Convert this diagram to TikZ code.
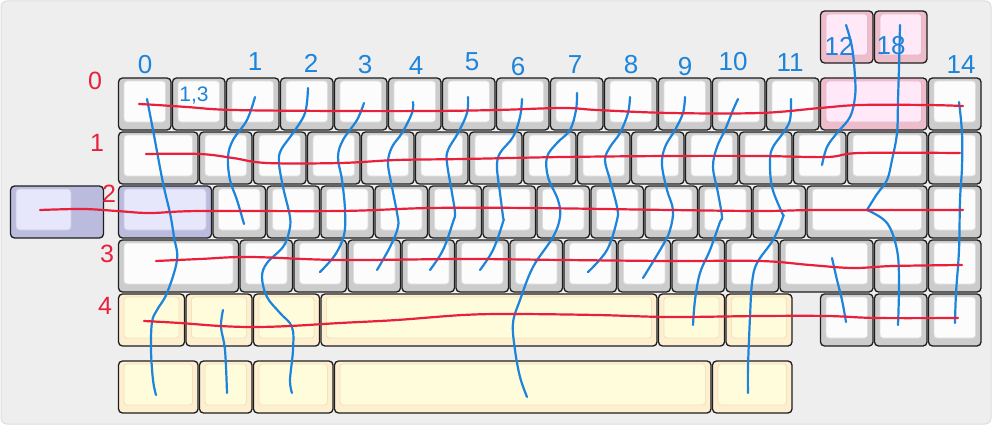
\documentclass[tikz,border=0pt]{standalone}
\usepackage{fontspec}
\setmainfont{Liberation Sans}
\definecolor{bgfill}{HTML}{EEEEEE}
\definecolor{bgline}{HTML}{DDDDDD}
\definecolor{keyline}{HTML}{1E1E1E}
\definecolor{gray-o}{HTML}{CCCCCC}
\definecolor{gray-i}{HTML}{FCFCFC}
\definecolor{gray-b}{HTML}{DDDDDD}
\definecolor{yel-o}{HTML}{FDEFCF}
\definecolor{yel-i}{HTML}{FFFCDC}
\definecolor{yel-b}{HTML}{F1E3C0}
\definecolor{pur-o}{HTML}{BBBBDD}
\definecolor{pur-i}{HTML}{E7E7FB}
\definecolor{pur-b}{HTML}{C8C8E4}
\definecolor{pnk-o}{HTML}{EEBDCA}
\definecolor{pnk-i}{HTML}{FFE8F8}
\definecolor{pnk-b}{HTML}{E8B8CC}
\definecolor{wireblue}{HTML}{1C84DA}
\definecolor{wirered}{HTML}{E8203C}
\tikzset{
  keyo/.style={draw=keyline, line width=1.3pt, rounded corners=4pt, inner sep=0pt, outer sep=0pt,
    minimum height=52pt, anchor=north west},
  face/.style={line width=0.9pt, rounded corners=3pt},
  bwire/.style={draw=wireblue, line width=2.2pt, line cap=round, line join=round},
  rwire/.style={draw=wirered, line width=2.2pt, line cap=round, line join=round},
  clab/.style={text=wireblue, font=\fontsize{26}{26}\selectfont, inner sep=0pt},
  rlab/.style={text=wirered, font=\fontsize{25}{25}\selectfont, inner sep=0pt},
}
\newcommand\kcap[5]{%
  \node[keyo, fill=#5-o, minimum width={#4*54pt-1.5pt}] (#1) at (#2,#3) {};
  \draw[face, fill=#5-i, draw=#5-b] ([xshift=5.5pt,yshift=-3pt]#1.north west) rectangle ([xshift=-5.5pt,yshift=8pt]#1.south east);
}
\begin{document}
\begin{tikzpicture}[x=1pt,y=-1pt]
\useasboundingbox (0,0) rectangle (992,425);
\draw[fill=bgfill, draw=bgline, line width=1pt, rounded corners=6pt] (1,1) rectangle (991,424);
% top pink keys
\kcap{t0}{820.5}{11}{1}{pnk}
\kcap{t1}{874.5}{11}{1}{pnk}
% row 0
\foreach \i in {0,...,12} {\kcap{a\i}{118.5+54*\i}{78}{1}{gray}}
\kcap{a13}{820.5}{78}{2}{pnk}
\kcap{a14}{928.5}{78}{1}{gray}
% row 1
\kcap{b0}{118.5}{132}{1.5}{gray}
\foreach \i in {1,...,12} {\kcap{b\i}{145.5+54*\i}{132}{1}{gray}}
\kcap{b13}{847.5}{132}{1.5}{gray}
\kcap{b14}{928.5}{132}{1}{gray}
% row 2
\kcap{c0}{118.5}{186}{1.75}{pur}
\foreach \i in {1,...,11} {\kcap{c\i}{159+54*\i}{186}{1}{gray}}
\kcap{c12}{807}{186}{2.25}{gray}
\kcap{c14}{928.5}{186}{1}{gray}
% stepped key at left
\node[keyo, fill=pur-o, minimum width={1.75*54pt-1.5pt}] (cx) at (10.5,186) {};
\draw[face, fill=pur-i, draw=pur-b] ([xshift=5.5pt,yshift=-3pt]cx.north west) rectangle ([xshift={1.25*54pt-7pt},yshift=8pt]cx.south west);
% row 3
\kcap{d0}{118.5}{240}{2.25}{gray}
\foreach \i in {1,...,10} {\kcap{d\i}{186+54*\i}{240}{1}{gray}}
\kcap{d11}{780}{240}{1.75}{gray}
\kcap{d13}{874.5}{240}{1}{gray}
\kcap{d14}{928.5}{240}{1}{gray}
% row 4
\kcap{e0}{118.5}{294}{1.25}{yel}
\kcap{e1}{186}{294}{1.25}{yel}
\kcap{e2}{253.5}{294}{1.25}{yel}
\kcap{e3}{321}{294}{6.25}{yel}
\kcap{e4}{658.5}{294}{1.25}{yel}
\kcap{e5}{726}{294}{1.25}{yel}
\kcap{e12}{820.5}{294}{1}{gray}
\kcap{e13}{874.5}{294}{1}{gray}
\kcap{e14}{928.5}{294}{1}{gray}
% row 5
\kcap{f0}{118.5}{361}{1.5}{yel}
\kcap{f1}{199.5}{361}{1}{yel}
\kcap{f2}{253.5}{361}{1.5}{yel}
\kcap{f3}{334.5}{361}{7}{yel}
\kcap{f4}{712.5}{361}{1.5}{yel}
% blue column wires
\draw[bwire] plot[smooth, tension=0.6] coordinates {(147,99) (153,130) (163,183) (170,213) (174,237) (177,260) (167,293) (157,310) (152,322) (151,350) (153,380) (156,395)};
\draw[bwire] plot[smooth, tension=0.6] coordinates {(255,97) (247,120) (233,140) (228,157) (230,180) (237,200) (244,224)};
\draw[bwire] plot[smooth, tension=0.6] coordinates {(223,310) (221,327) (225,350) (227,393)};
\draw[bwire] plot[smooth, tension=0.6] coordinates {(308,88) (305,113) (293,133) (281,150) (279,163) (283,187) (290,217) (289,232) (283,247) (267,263) (262,277) (267,297) (280,313) (292,327) (293,350) (290,380) (292,393)};
\draw[bwire] plot[smooth, tension=0.6] coordinates {(364,103) (357,120) (343,140) (338,157) (342,180) (345,210) (344,235) (335,255) (320,272)};
\draw[bwire] plot[smooth, tension=0.6] coordinates {(413,102) (412,113) (402,133) (392,147) (388,163) (392,187) (397,213) (398,227) (390,247) (377,270)};
\draw[bwire] plot[smooth, tension=0.6] coordinates {(468,97) (467,113) (458,133) (448,150) (447,163) (452,193) (455,213) (453,222) (443,250) (430,270)};
\draw[bwire] plot[smooth, tension=0.6] coordinates {(522,99) (520,117) (513,137) (500,153) (497,167) (500,193) (503,217) (503,222) (493,250) (480,270)};
\draw[bwire] plot[smooth, tension=0.6] coordinates {(577,93) (576,110) (570,130) (557,143) (547,157) (548,177) (558,200) (560,217) (553,237) (533,267) (520,300) (513,323) (515,350) (520,377) (527,397)};
\draw[bwire] plot[smooth, tension=0.6] coordinates {(630,97) (628,113) (620,133) (610,147) (605,160) (610,180) (617,207) (617,220) (607,250) (588,272)};
\draw[bwire] plot[smooth, tension=0.6] coordinates {(685,97) (683,113) (675,130) (665,147) (662,165) (667,190) (673,210) (670,230) (663,245) (643,278)};
\draw[bwire] plot[smooth, tension=0.6] coordinates {(738,99) (733,110) (725,130) (717,147) (713,167) (718,193) (722,217) (720,222) (710,250) (700,273) (695,300) (693,325)};
\draw[bwire] plot[smooth, tension=0.6] coordinates {(791,99) (790,120) (783,133) (773,147) (770,160) (772,187) (782,213) (783,217) (773,240) (757,263) (752,283) (750,317) (748,367) (748,393)};
\draw[bwire] plot[smooth, tension=0.6] coordinates {(846,25) (852,47) (855,77) (855,97) (850,117) (837,133) (827,147) (822,165)};
\draw[bwire] plot[smooth, tension=0.6] coordinates {(832,258) (837,280) (842,300) (846,322)};
\draw[bwire] plot[smooth, tension=0.6] coordinates {(900,25) (899,67) (898,100) (897,133) (892,160) (887,180) (877,194) (867,210)};
\draw[bwire] plot[smooth, tension=0.6] coordinates {(867,210) (887,223) (897,250) (899,283) (898,325)};
\draw[bwire] plot[smooth, tension=0.6] coordinates {(959,102) (962,133) (962,167) (960,200) (959,250) (956,293) (955,323)};
% red row wires
\draw[rwire] plot[smooth, tension=0.6] coordinates {(139,104) (157,105) (187,107) (233,110) (340,111) (430,111) (497,110) (563,108) (597,110) (670,113) (760,113) (820,108) (860,105) (927,105) (963,106)};
\draw[rwire] plot[smooth, tension=0.6] coordinates {(146,154) (200,154) (233,158) (267,163) (340,163) (397,160) (463,159) (563,157) (670,156) (760,156) (827,157) (860,153) (960,153)};
\draw[rwire] plot[smooth, tension=0.6] coordinates {(40,210) (83,209) (117,211) (150,213) (200,211) (340,211) (430,208) (530,208) (670,210) (760,211) (813,210) (867,210) (963,210)};
\draw[rwire] plot[smooth, tension=0.6] coordinates {(156,261) (200,259) (250,257) (340,260) (463,259) (563,260) (670,261) (760,261) (810,265) (853,268) (893,266) (962,265)};
\draw[rwire] plot[smooth, tension=0.6] coordinates {(144,321) (180,323) (220,326) (253,327) (290,326) (340,323) (397,320) (463,315) (513,314) (597,315) (670,317) (760,316) (827,316) (877,318) (958,318)};
% column labels
\node[clab] (l0) at (145,65) {0};
\node[clab] (l1) at (255,62) {1};
\node[clab] (l2) at (311,63) {2};
\node[clab] (l3) at (365,65) {3};
\node[clab] (l4) at (416,66) {4};
\node[clab] (l5) at (472,62) {5};
\node[clab] (l6) at (518,67) {6};
\node[clab] (l7) at (575,65) {7};
\node[clab] (l8) at (631,65) {8};
\node[clab] (l9) at (685,67) {9};
\node[clab] (l10) at (733,62) {10};
\node[clab] (l11) at (790,63) {11};
\node[clab] (l12) at (839,46) {12};
\node[clab] (l13) at (891,46) {18};
\node[clab] (l14) at (961,65) {14};
\node[clab, font=\fontsize{21}{21}\selectfont] (l13b) at (194,96) {1,3};
% row labels
\node[rlab] (r0) at (95,81) {0};
\node[rlab] (r1) at (97,143) {1};
\node[rlab] (r2) at (109,194) {2};
\node[rlab] (r3) at (107,254) {3};
\node[rlab] (r4) at (105,306) {4};
\end{tikzpicture}
\end{document}
